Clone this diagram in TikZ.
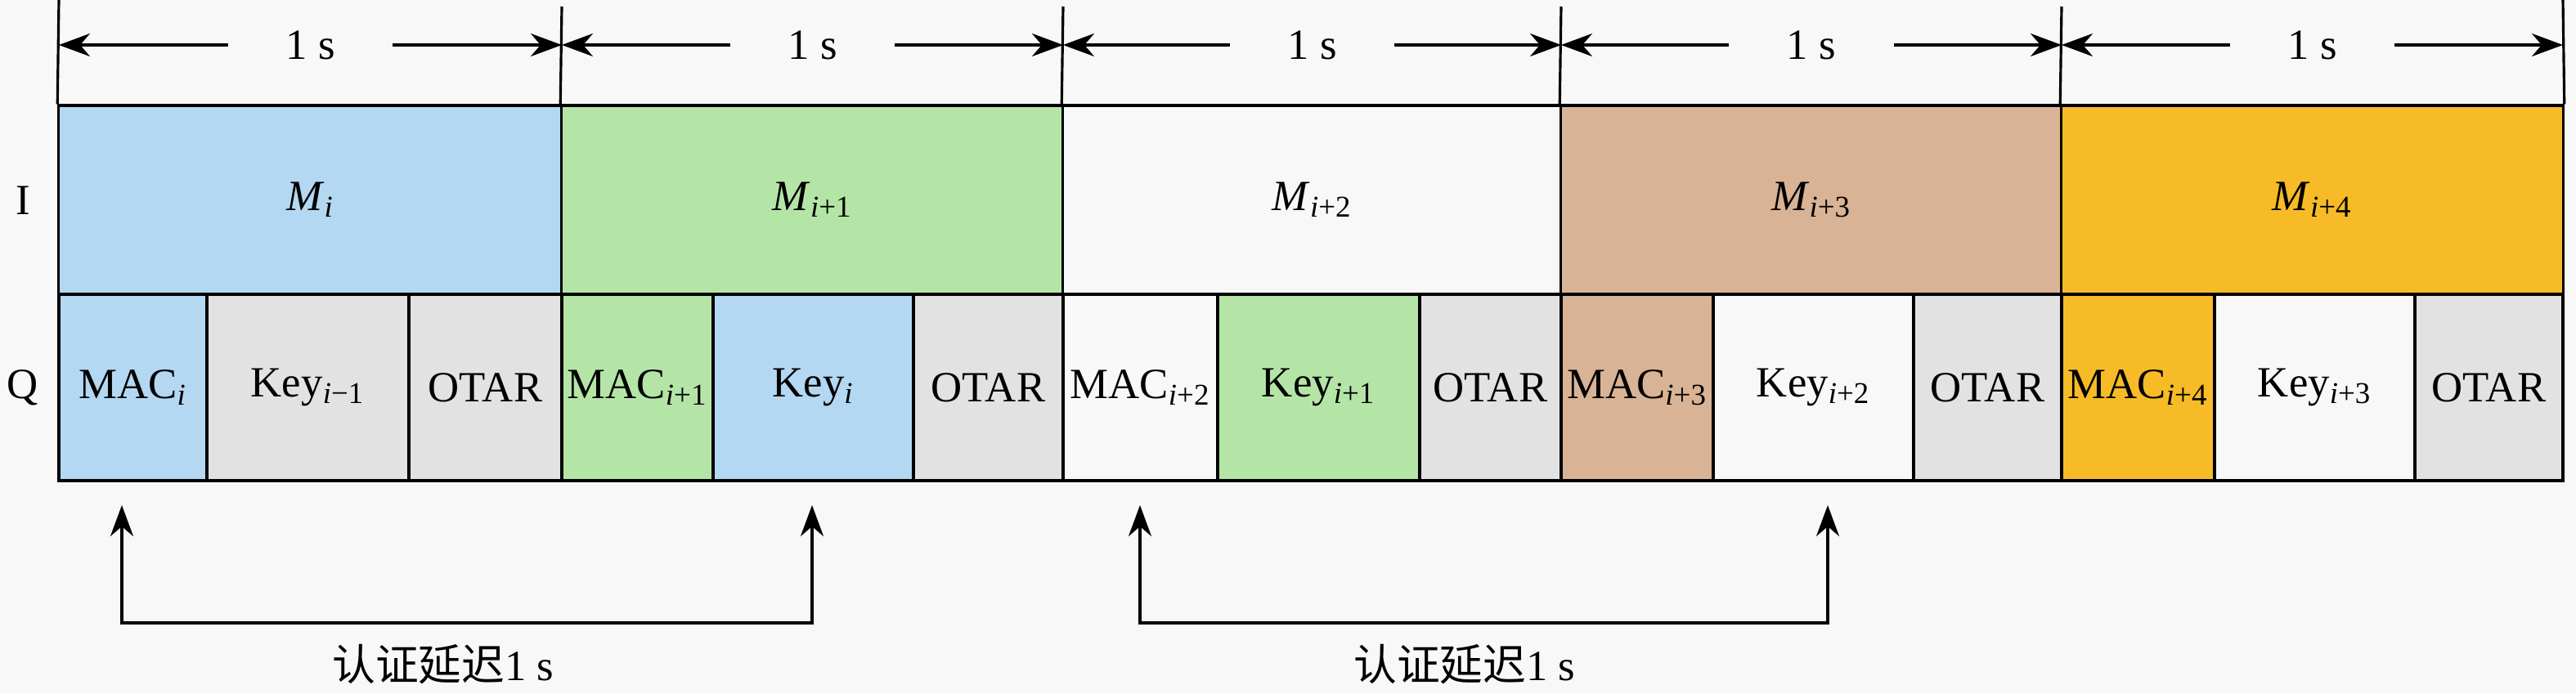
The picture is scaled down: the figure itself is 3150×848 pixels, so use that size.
\documentclass[tikz,border=0pt]{standalone}
\usepackage{fontspec}
\setmainfont{Liberation Serif}
\newfontfamily\cjk{Noto Sans CJK SC}
\usetikzlibrary{arrows.meta}
\definecolor{bg}{RGB}{248,248,248}
\definecolor{cblue}{RGB}{180,215,242}
\definecolor{cgreen}{RGB}{180,229,167}
\definecolor{cbrown}{RGB}{216,179,149}
\definecolor{corange}{RGB}{246,187,38}
\definecolor{cgray}{RGB}{226,226,226}
\newcommand\sbs[1]{\textsubscript{#1}}
\begin{document}
\begin{tikzpicture}[x=0.01cm,y=-0.01cm,
  every node/.style={font=\fontsize{15pt}{18pt}\selectfont, inner sep=0pt},
  ln/.style={line width=0.9pt, black},
  cell/.style={draw, ln},
  irow/.style={cell, minimum height=2.31cm},
  qrow/.style={cell, minimum height=2.28cm},
  tip/.tip={Stealth[length=0.38cm,width=0.28cm,inset=0.12cm]},
  dim/.style={ln, -tip},
  bidim/.style={ln, tip-tip}]
\fill[bg] (0,0) rectangle (3150,848);
\useasboundingbox (0,0) rectangle (3150,848);

% I row
\node[irow, fill=cblue,   minimum width=6.15cm] (M0) at (379.5,244.5) {\textit{M}\sbs{\textit{i}}};
\node[irow, fill=cgreen,  minimum width=6.13cm] (M1) at (993.5,244.5) {\textit{M}\sbs{\textit{i}+1}};
\node[irow, fill=bg,      minimum width=6.09cm] (M2) at (1604.5,244.5) {\textit{M}\sbs{\textit{i}+2}};
\node[irow, fill=cbrown,  minimum width=6.12cm] (M3) at (2215,244.5) {\textit{M}\sbs{\textit{i}+3}};
\node[irow, fill=corange, minimum width=6.13cm] (M4) at (2827.5,244.5) {\textit{M}\sbs{\textit{i}+4}};

% Q row
\node[qrow, fill=cblue,  minimum width=1.81cm] (q0a) at (162.5,474) {MAC\sbs{\textit{i}}};
\node[qrow, fill=cgray,  minimum width=2.47cm] (q0b) at (376.5,474) {Key\sbs{\textit{i}−1}};
\node[qrow, fill=cgray,  minimum width=1.87cm] (q0c) at (593.5,474) {OTAR};
\node[qrow, fill=cgreen, minimum width=1.85cm] (q1a) at (779.5,474) {MAC\sbs{\textit{i}+1}};
\node[qrow, fill=cblue,  minimum width=2.45cm] (q1b) at (994.5,474) {Key\sbs{\textit{i}}};
\node[qrow, fill=cgray,  minimum width=1.83cm] (q1c) at (1208.5,474) {OTAR};
\node[qrow, fill=bg,     minimum width=1.89cm] (q2a) at (1394.5,474) {MAC\sbs{\textit{i}+2}};
\node[qrow, fill=cgreen, minimum width=2.47cm] (q2b) at (1612.5,474) {Key\sbs{\textit{i}+1}};
\node[qrow, fill=cgray,  minimum width=1.73cm] (q2c) at (1822.5,474) {OTAR};
\node[qrow, fill=cbrown, minimum width=1.86cm] (q3a) at (2002,474) {MAC\sbs{\textit{i}+3}};
\node[qrow, fill=bg,     minimum width=2.45cm] (q3b) at (2217.5,474) {Key\sbs{\textit{i}+2}};
\node[qrow, fill=cgray,  minimum width=1.81cm] (q3c) at (2430.5,474) {OTAR};
\node[qrow, fill=corange,minimum width=1.87cm] (q4a) at (2614.5,474) {MAC\sbs{\textit{i}+4}};
\node[qrow, fill=bg,     minimum width=2.45cm] (q4b) at (2830.5,474) {Key\sbs{\textit{i}+3}};
\node[qrow, fill=cgray,  minimum width=1.81cm] (q4c) at (3043.5,474) {OTAR};

% row labels
\node (lI) at (28,245) {I};
\node (lQ) at (28,474) {Q};

% vertical extension lines
\coordinate (t0) at (72,0);
\coordinate (t1) at (687,8);
\coordinate (t2) at (1300,8);
\coordinate (t3) at (1909,8);
\coordinate (t4) at (2521,8);
\coordinate (t5) at (3134,0);
\draw[ln] (t0) -- (M0.north west);
\draw[ln] (t1) -- (M1.north west);
\draw[ln] (t2) -- (M2.north west);
\draw[ln] (t3) -- (M3.north west);
\draw[ln] (t4) -- (M4.north west);
\draw[ln] (t5) -- (M4.north east);

% dimension arrows
\coordinate (d0) at (72,55);
\coordinate (d1) at (687,55);
\coordinate (d2) at (1300,55);
\coordinate (d3) at (1909,55);
\coordinate (d4) at (2521,55);
\coordinate (d5) at (3134,55);
\node[minimum width=2cm] (s0) at (379.5,55) {1 s};
\node[minimum width=2cm] (s1) at (993.5,55) {1 s};
\node[minimum width=2cm] (s2) at (1604.5,55) {1 s};
\node[minimum width=2cm] (s3) at (2215,55) {1 s};
\node[minimum width=2cm] (s4) at (2827.5,55) {1 s};
\draw[dim] (s0.west) -- (d0); \draw[dim] (s0.east) -- (d1);
\draw[dim] (s1.west) -- (d1); \draw[dim] (s1.east) -- (d2);
\draw[dim] (s2.west) -- (d2); \draw[dim] (s2.east) -- (d3);
\draw[dim] (s3.west) -- (d3); \draw[dim] (s3.east) -- (d4);
\draw[dim] (s4.west) -- (d4); \draw[dim] (s4.east) -- (d5);

% authentication delay arrows
\coordinate (b0t) at (149,618);
\coordinate (b0b) at (149,762);
\coordinate (b1t) at (993,618);
\coordinate (b1b) at (993,762);
\coordinate (b2t) at (1394,618);
\coordinate (b2b) at (1394,762);
\coordinate (b3t) at (2235,618);
\coordinate (b3b) at (2235,762);
\draw[bidim] (b0t) -- (b0b) -- (b1b) -- (b1t);
\draw[bidim] (b2t) -- (b2b) -- (b3b) -- (b3t);
\node (c0) at (542,813) {{\cjk 认证延迟}1 s};
\node (c1) at (1791,813) {{\cjk 认证延迟}1 s};
\end{tikzpicture}
\end{document}
